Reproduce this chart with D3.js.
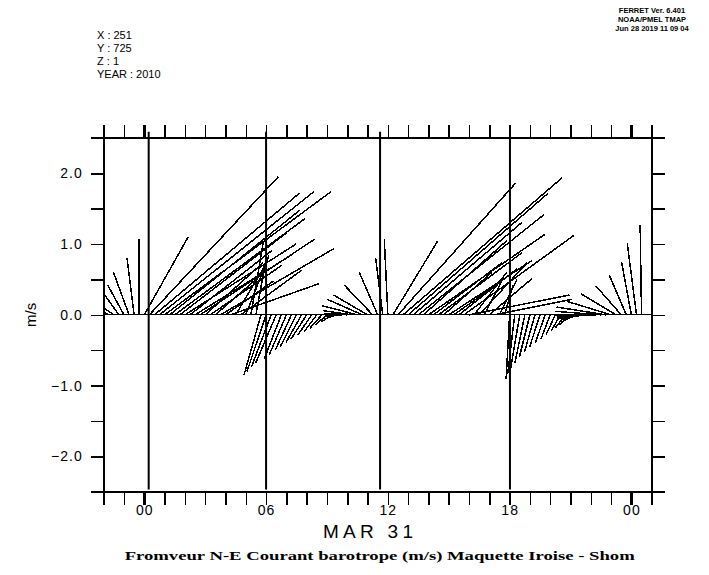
<!DOCTYPE html>
<html>
<head>
<meta charset="utf-8">
<script src="https://cdn.jsdelivr.net/npm/d3@7"></script>
<style>
  body { margin: 0; background: #fff; }
  svg { display: block; }
</style>
</head>
<body>
<div id="chart"></div>
<script>
// samples every 15 minutes, first one at Mar 30 22:00
var startTime = new Date(2010, 2, 30, 22, 0);
var stepMinutes = 15;

// east (u) and north (v) components, m/s
var uComp = [
  -0.05, -0.08, -0.13, -0.20, -0.23, -0.22, -0.10, 0.00, 0.62, 1.82,
   2.05,  2.18,  2.35,  1.84,  1.84,  1.51,  1.57, 1.16, 1.37, 1.62,
   0.82,  1.01,  0.63,  1.61,  0.68,  1.25,  0.44, 0.86, 0.33, 0.18,
   0.16, -0.24, -0.27, -0.28, -0.29, -0.24, -0.24, -0.23, -0.23, -0.22,
  -0.22, -0.20, -0.18, -0.17, -0.16, -0.15, -0.18, -0.25, -0.33, -0.42,
  -0.50, -0.50, -0.48, -0.40, -0.26, -0.10, -0.05, 0.63, 1.66, 2.25,
   1.98,  1.54,  1.78,  1.18,  1.65,  0.97,  1.18, 0.68, 1.18, 0.68,
   0.82,  1.55,  1.42,  0.46,  0.68,  0.25,  0.60, 1.10, 0.25, 0.12,
  -0.05, -0.10, -0.13, -0.14, -0.15, -0.15, -0.15, -0.14, -0.13, -0.13,
  -0.13, -0.14, -0.16, -0.20, -0.28, -0.38, -0.48, -0.56, -0.65, -0.70,
  -0.62, -0.50, -0.36, -0.24, -0.14, -0.13, -0.02
];
var vComp = [
   0.02,  0.04,  0.09,  0.28,  0.42,  0.60,  0.80, 1.07, 1.10, 1.95,
   1.72,  1.74,  1.74,  1.48,  1.36,  1.16,  1.00, 0.91, 0.85, 1.07,
   0.74,  0.70,  0.55,  0.94,  0.48,  0.44,  0.74, 0.63, 0.84, 1.05,
   0.88, -0.85, -0.80, -0.74, -0.68, -0.62, -0.56, -0.50, -0.45, -0.39,
  -0.34, -0.29, -0.24, -0.19, -0.14, -0.10, -0.06, -0.02, 0.02, 0.06,
   0.13,  0.22,  0.28,  0.42,  0.60,  0.80,  1.07, 1.04, 1.86, 1.94,
   1.72,  1.31,  1.42,  1.05,  1.14,  0.74,  0.88, 0.60, 0.77, 0.48,
   0.65,  1.12,  0.28,  0.60,  0.74,  0.48,  0.51, 0.22, 0.50, 0.42,
  -0.91, -0.84, -0.76, -0.68, -0.60, -0.53, -0.46, -0.40, -0.34, -0.28,
  -0.23, -0.18, -0.14, -0.10, -0.07, -0.05, -0.03, -0.01, 0.05, 0.11,
   0.19,  0.30,  0.41,  0.56,  0.75,  1.01,  1.27
];

// full height lines (hours after Mar 31 00:00) and their extent in m/s
var spikeHours = [0.23, 6.0, 11.62, 18.03];
var spikeTop = 2.59;
var spikeBottom = -2.47;

var yTicks = [-2.5, -2.0, -1.5, -1.0, -0.5, 0.0, 0.5, 1.0, 1.5, 2.0, 2.5];
var yLabelled = [-2.0, -1.0, 0.0, 1.0, 2.0];
var xLabelEvery = 6;
var dateLabel = "MAR 31";
var yLabel = "m/s";
var titleText = "Fromveur N-E Courant barotrope (m/s) Maquette Iroise - Shom";
var headerLines = ["X : 251", "Y : 725", "Z : 1", "YEAR : 2010"];
var ferretLines = ["FERRET Ver. 6.401", "NOAA/PMEL TMAP", "Jun 28 2019 11 09 04"];

var svgWidth = 709;
var svgHeight = 575;
var plot = { left: 103.7, right: 651.7, top: 138, bottom: 491.7 };
var tickLen = 13;

var svg = d3.select("#chart")
    .append("svg")
    .attr("width", svgWidth)
    .attr("height", svgHeight)
    .style("font-family", "'Liberation Sans', Arial, sans-serif");

var xScale = d3.scaleTime()
    .domain([new Date(2010, 2, 30, 22, 0), new Date(2010, 3, 1, 1, 0)])
    .range([plot.left, plot.right]);
var yScale = d3.scaleLinear()
    .domain([-2.5, 2.5])
    .range([plot.bottom, plot.top]);

// pixels for 1 m/s, used for both components so angles are kept
var unit = yScale(0) - yScale(1);

var sticks = uComp.map(function(u, i) {
    return { time: d3.timeMinute.offset(startTime, i * stepMinutes), u: u, v: vComp[i] };
});

var midnight = new Date(2010, 2, 31, 0, 0);

// clip sticks to the plot width
svg.append("clipPath").attr("id", "plotClip")
  .append("rect")
    .attr("x", plot.left)
    .attr("y", 110)
    .attr("width", plot.right - plot.left)
    .attr("height", 400);

var stickGroup = svg.append("g").attr("clip-path", "url(#plotClip)");

stickGroup.selectAll("line.stick")
    .data(sticks)
    .enter()
    .append("line")
    .attr("class", "stick")
    .attr("x1", function(d) { return xScale(d.time); })
    .attr("y1", yScale(0))
    .attr("x2", function(d) { return xScale(d.time) + d.u * unit; })
    .attr("y2", function(d) { return yScale(d.v); })
    .attr("stroke", "#000")
    .attr("stroke-width", 1.5)
    .attr("shape-rendering", "crispEdges");

svg.selectAll("line.spike")
    .data(spikeHours)
    .enter()
    .append("line")
    .attr("class", "spike")
    .attr("x1", function(h) { return xScale(d3.timeMinute.offset(midnight, h * 60)); })
    .attr("x2", function(h) { return xScale(d3.timeMinute.offset(midnight, h * 60)); })
    .attr("y1", yScale(spikeTop))
    .attr("y2", yScale(spikeBottom))
    .attr("stroke", "#000")
    .attr("stroke-width", 2);

// zero line of the sticks
svg.append("line")
    .attr("x1", plot.left).attr("x2", plot.right)
    .attr("y1", yScale(0)).attr("y2", yScale(0))
    .attr("stroke", "#000").attr("stroke-width", 1)
    .attr("shape-rendering", "crispEdges");

// axes
var hourTicks = d3.timeHour.every(1);
var hourFmt = d3.timeFormat("%H");

var bottomAxis = d3.axisBottom(xScale)
    .ticks(hourTicks)
    .tickSize(tickLen)
    .tickPadding(0)
    .tickFormat(function(d) { return d.getHours() % xLabelEvery === 0 ? hourFmt(d) : ""; });
var topAxis = d3.axisTop(xScale).ticks(hourTicks).tickSize(tickLen).tickFormat("");
var leftAxis = d3.axisLeft(yScale)
    .tickValues(yTicks)
    .tickSize(tickLen)
    .tickPadding(8)
    .tickFormat(function(d) {
        return yLabelled.indexOf(d) >= 0 ? d3.format(".1f")(d).replace("-", "\u2212") : "";
    });
var rightAxis = d3.axisRight(yScale).tickValues(yTicks).tickSize(tickLen).tickFormat("");

var axes = [
    svg.append("g").attr("transform", "translate(0," + plot.bottom + ")").call(bottomAxis),
    svg.append("g").attr("transform", "translate(0," + plot.top + ")").call(topAxis),
    svg.append("g").attr("transform", "translate(" + plot.left + ",0)").call(leftAxis),
    svg.append("g").attr("transform", "translate(" + plot.right + ",0)").call(rightAxis)
];
axes.forEach(function(g) {
    g.select(".domain").remove();
    g.selectAll(".tick line")
        .attr("stroke", "#000")
        .attr("stroke-width", 1.5)
        .attr("shape-rendering", "crispEdges");
    g.selectAll(".tick text")
        .attr("fill", "#000")
        .style("font-size", "14px")
        .style("letter-spacing", "1px")
        .style("font-family", "'Liberation Sans', Arial, sans-serif");
});

// thicker ticks at midnight on the time axes
axes.slice(0, 2).forEach(function(g) {
    g.selectAll(".tick line")
        .filter(function(d) { return d.getHours() === 0; })
        .attr("stroke-width", 3);
});

// frame lines running one tick length past the corners
var frame = [
    [plot.left - tickLen, plot.bottom, plot.right + tickLen, plot.bottom],
    [plot.left - tickLen, plot.top, plot.right + tickLen, plot.top],
    [plot.left, plot.top - tickLen, plot.left, plot.bottom + tickLen],
    [plot.right, plot.top - tickLen, plot.right, plot.bottom + tickLen]
];
svg.selectAll("line.frame")
    .data(frame)
    .enter()
    .append("line")
    .attr("class", "frame")
    .attr("x1", function(d) { return d[0]; })
    .attr("y1", function(d) { return d[1]; })
    .attr("x2", function(d) { return d[2]; })
    .attr("y2", function(d) { return d[3]; })
    .attr("stroke", "#000")
    .attr("stroke-width", 2)
    .attr("shape-rendering", "crispEdges");

// labels
svg.append("text")
    .attr("transform", "translate(36," + yScale(0) + ") rotate(-90)")
    .attr("text-anchor", "middle")
    .style("font-size", "15px")
    .text(yLabel);

svg.append("text")
    .attr("x", 368)
    .attr("y", 538)
    .attr("text-anchor", "middle")
    .attr("textLength", 90)
    .attr("lengthAdjust", "spacing")
    .style("font-size", "19px")
    .text(dateLabel);

svg.append("text")
    .attr("x", (plot.left + plot.right) / 2 + 2)
    .attr("y", 560)
    .attr("text-anchor", "middle")
    .attr("textLength", 510)
    .attr("lengthAdjust", "spacingAndGlyphs")
    .style("font-family", "'Liberation Serif', serif")
    .style("font-weight", "bold")
    .style("font-size", "13px")
    .text(titleText);

svg.selectAll("text.header")
    .data(headerLines)
    .enter()
    .append("text")
    .attr("class", "header")
    .attr("x", 97)
    .attr("y", function(d, i) { return 39 + i * 13; })
    .style("font-size", "11px")
    .text(function(d) { return d; });

svg.selectAll("text.ferret")
    .data(ferretLines)
    .enter()
    .append("text")
    .attr("class", "ferret")
    .attr("x", 652)
    .attr("y", function(d, i) { return 13 + i * 9; })
    .attr("text-anchor", "middle")
    .style("font-size", "7.5px")
    .style("font-weight", "bold")
    .text(function(d) { return d; });
</script>
</body>
</html>
